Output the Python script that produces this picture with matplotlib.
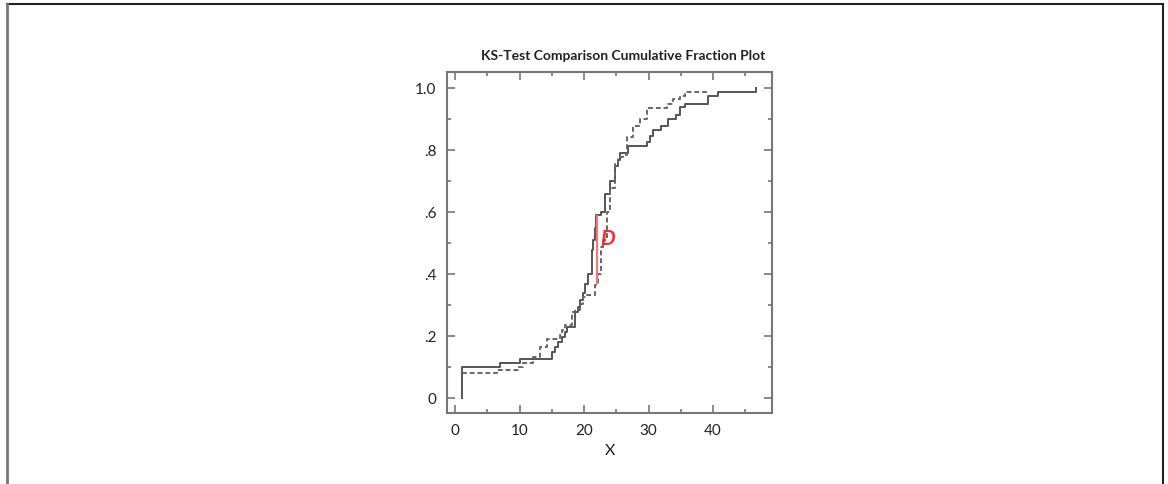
import matplotlib.pyplot as plt
from matplotlib.lines import Line2D
from matplotlib.ticker import MultipleLocator, FuncFormatter

plt.rcParams['font.family'] = ['Lato', 'DejaVu Sans']

# sample A (solid) - cumulative fraction steps
x_a = [1, 1, 7, 10, 15, 15.5, 16.0, 16.5, 17.0, 17.3, 18.6, 19.1, 19.4, 19.9, 20.1,
       20.6, 21.2, 21.4, 21.7, 21.9, 22.7, 23.2, 24.0, 24.8, 25.3, 25.6, 26.8, 29.7,
       30.2, 30.7, 32.0, 33.0, 34.3, 34.8, 35.6, 39.2, 40.8, 46.7]
y_a = [0, 0.10, 0.113, 0.125, 0.148, 0.165, 0.18, 0.198, 0.215, 0.23, 0.278, 0.295,
       0.316, 0.338, 0.37, 0.40, 0.477, 0.51, 0.55, 0.59, 0.60, 0.66, 0.70, 0.75,
       0.768, 0.79, 0.814, 0.828, 0.845, 0.865, 0.88, 0.902, 0.913, 0.94, 0.95,
       0.976, 0.99, 1.0]

# sample B (dashed)
x_b = [1, 6.5, 9.8, 10.5, 12.1, 13.2, 14.2, 16.3, 16.5, 17.0, 18.1, 18.6, 19.3, 19.9,
       20.4, 21.7, 21.9, 22.2, 22.7, 23.0, 23.5, 24.0, 24.8, 25.3, 26.1, 26.6, 27.6,
       28.6, 29.7, 32.8, 33.8, 34.8, 35.6, 39.2]
y_b = [0.08, 0.092, 0.10, 0.115, 0.133, 0.165, 0.19, 0.205, 0.22, 0.235, 0.278, 0.284,
       0.305, 0.327, 0.332, 0.365, 0.37, 0.40, 0.488, 0.51, 0.60, 0.68, 0.757, 0.778,
       0.784, 0.843, 0.88, 0.902, 0.937, 0.95, 0.967, 0.976, 0.988, 0.99]

# KS distance
d_x = 22.0
d_lo, d_hi = 0.371, 0.587

fig = plt.figure(figsize=(11.68, 4.84), dpi=100)
ax = fig.add_axes([0.383, 0.1467, 0.2783, 0.7045])

ax.step(x_a, y_a, where='post', color='#555555', lw=1.4)
ax.step(x_b, y_b, where='post', color='#666666', lw=1.4, linestyle=(0, (2.5, 1.5)))
ax.plot([d_x, d_x], [d_lo, d_hi], color='#ff7070', lw=1.5)
ax.text(d_x + 0.5, 0.515, 'D', color='#ff2a2a', fontsize=15, fontweight='bold',
        fontstyle='italic', va='center', ha='left')

ax.set_xlim(-1.2, 49.2)
ax.set_ylim(-0.048, 1.053)
ax.xaxis.set_major_locator(MultipleLocator(10))
ax.xaxis.set_minor_locator(MultipleLocator(5))
ax.yaxis.set_major_locator(MultipleLocator(0.2))
ax.yaxis.set_minor_locator(MultipleLocator(0.1))


def yfmt(v, pos):
    if abs(v) < 1e-9:
        return '0'
    if abs(v - 1) < 1e-9:
        return '1.0'
    return ('%.1f' % v).lstrip('0')


ax.yaxis.set_major_formatter(FuncFormatter(yfmt))
ax.tick_params(which='both', direction='in', top=True, right=True, color='#777777',
               labelsize=11, labelcolor='#222222', width=1.2)
ax.tick_params(which='major', length=6, pad=8)
ax.tick_params(which='minor', length=3)
for s in ax.spines.values():
    s.set_color('#777777')
    s.set_linewidth(1.5)

ax.set_title('KS-Test Comparison Cumulative Fraction Plot', fontsize=10, fontweight='bold',
             color='#222222', pad=9, x=0.54)
ax.set_xlabel('X', fontsize=11.5, color='#222222', labelpad=4)

# outer frame lines
fig.add_artist(Line2D([0.0063, 0.9957], [0.991, 0.991], color='#222222', lw=1.5))
fig.add_artist(Line2D([0.0063, 0.0063], [0, 0.991], color='#777777', lw=2))
fig.add_artist(Line2D([0.9957, 0.9957], [0, 0.991], color='#222222', lw=1.5))

fig.savefig('out.png', dpi=100)
